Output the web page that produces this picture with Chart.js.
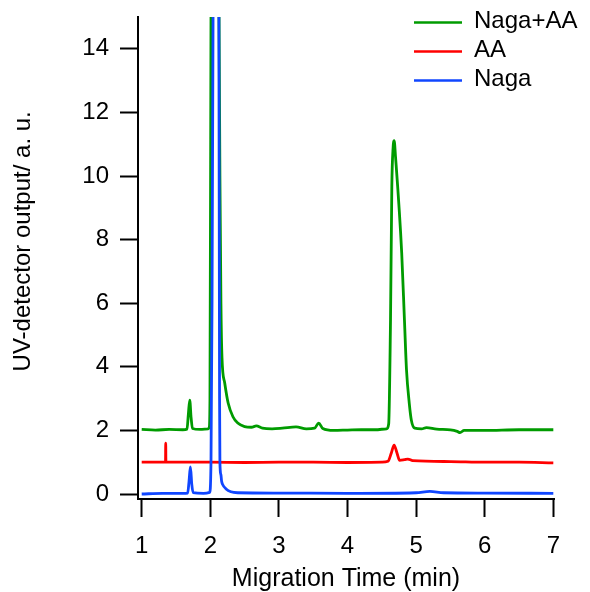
<!DOCTYPE html>
<html>
<head>
<meta charset="utf-8">
<script src="https://cdn.jsdelivr.net/npm/chart.js@4"></script>
<style>
  html, body { margin: 0; padding: 0; background: #fff; }
  canvas { display: block; }
</style>
</head>
<body>
<canvas id="chart" width="590" height="592"></canvas>
<script>
// Electropherogram: UV-detector output vs migration time

// tick labels
const xTicks = [1, 2, 3, 4, 5, 6, 7];
const yTicks = [0, 2, 4, 6, 8, 10, 12, 14];

// Naga+AA (green)
const nagaAaTime = [1.00, 1.20, 1.40, 1.60, 1.66, 1.68, 1.70, 1.72, 1.74, 1.85, 1.97, 1.985, 1.995, 2.01, 2.06, 2.12, 2.14, 2.155, 2.17, 2.21, 2.26, 2.33, 2.40, 2.50, 2.60, 2.67, 2.76, 2.90, 3.05, 3.25, 3.40, 3.52, 3.58, 3.64, 3.80, 4.00, 4.20, 4.40, 4.57, 4.60, 4.627, 4.646, 4.665, 4.68, 4.70, 4.79, 4.83, 4.86, 4.90, 4.93, 4.98, 5.08, 5.15, 5.30, 5.50, 5.60, 5.64, 5.70, 6.00, 6.50, 7.00];
const nagaAaSignal = [2.03, 2.01, 2.03, 2.02, 2.04, 2.50, 2.95, 2.40, 2.06, 2.03, 2.05, 2.10, 3.00, 15.0, 35.0, 18.0, 10.0, 6.0, 4.3, 3.49, 2.86, 2.43, 2.23, 2.12, 2.10, 2.14, 2.07, 2.05, 2.07, 2.11, 2.05, 2.07, 2.23, 2.06, 2.00, 2.01, 2.02, 2.02, 2.05, 2.20, 5.50, 9.67, 10.90, 11.11, 10.60, 7.58, 5.47, 3.90, 2.86, 2.33, 2.07, 2.05, 2.09, 2.04, 2.02, 1.97, 1.93, 2.00, 2.00, 2.02, 2.02];

// AA (red)
const aaTime = [1.00, 1.30, 1.347, 1.35, 1.353, 1.60, 2.00, 2.50, 3.00, 3.50, 4.00, 4.50, 4.59, 4.64, 4.68, 4.72, 4.76, 4.83, 4.88, 4.95, 5.50, 6.00, 6.50, 7.00];
const aaSignal = [1.00, 1.00, 1.00, 1.60, 1.00, 1.00, 1.00, 0.99, 1.00, 1.00, 0.99, 1.00, 1.03, 1.30, 1.54, 1.30, 1.06, 1.08, 1.10, 1.05, 1.02, 1.00, 1.00, 0.98];

// Naga (blue)
const nagaTime = [1.00, 1.30, 1.60, 1.67, 1.69, 1.71, 1.73, 1.75, 1.90, 1.99, 2.01, 2.025, 2.04, 2.08, 2.125, 2.135, 2.14, 2.155, 2.165, 2.18, 2.23, 2.30, 2.40, 3.00, 4.00, 5.00, 5.20, 5.40, 6.00, 7.00];
const nagaSignal = [0.00, 0.02, 0.02, 0.03, 0.40, 0.85, 0.30, 0.04, 0.02, 0.05, 1.00, 6.00, 15.0, 45.0, 15.0, 3.00, 1.00, 0.60, 0.40, 0.30, 0.16, 0.07, 0.04, 0.03, 0.02, 0.04, 0.08, 0.04, 0.03, 0.02];

const FONT = "'Liberation Sans', Arial, Helvetica, sans-serif";

function toPoints(xs, ys) {
    return xs.map((x, i) => ({ x: x, y: ys[i] }));
}

function series(label, xs, ys, color, order) {
    return {
        label: label,
        data: toPoints(xs, ys),
        borderColor: color,
        backgroundColor: color,
        borderWidth: 2.8,
        pointRadius: 0,
        cubicInterpolationMode: "monotone",
        fill: false,
        order: order
    };
}

// legend drawn top right, over the plot
const cornerLegend = {
    id: "cornerLegend",
    afterDraw(chart) {
        const ctx = chart.ctx;
        ctx.save();
        ctx.font = "24px " + FONT;
        ctx.textBaseline = "middle";
        ctx.textAlign = "left";
        chart.data.datasets.forEach((ds, i) => {
            const y = 22.5 + i * 29;
            ctx.strokeStyle = ds.borderColor;
            ctx.lineWidth = 2.5;
            ctx.beginPath();
            ctx.moveTo(414, y);
            ctx.lineTo(462, y);
            ctx.stroke();
            ctx.fillStyle = "#000";
            ctx.fillText(ds.label, 474, y - 1);
        });
        ctx.restore();
    }
};

new Chart(document.getElementById("chart").getContext("2d"), {
    type: "line",
    data: {
        datasets: [
            series("Naga+AA", nagaAaTime, nagaAaSignal, "rgb(0,155,0)", 3),
            series("AA", aaTime, aaSignal, "rgb(255,0,0)", 2),
            series("Naga", nagaTime, nagaSignal, "rgb(16,70,255)", 1)
        ]
    },
    options: {
        responsive: false,
        animation: false,
        devicePixelRatio: 1,
        layout: { padding: { top: 17, right: 36, left: 0, bottom: 0 } },
        plugins: {
            legend: { display: false },
            tooltip: { enabled: false }
        },
        scales: {
            x: {
                type: "linear",
                min: 0.946,
                max: 7.01,
                afterBuildTicks(scale) { scale.ticks = xTicks.map(v => ({ value: v })); },
                afterFit(scale) {
                    scale.height = 93;
                    scale.paddingLeft = 0;
                    scale.paddingRight = 0;
                },
                grid: { display: true, drawOnChartArea: false, drawTicks: true, tickLength: 18, tickColor: "#000", tickWidth: 2 },
                border: { display: true, color: "#000", width: 2 },
                ticks: { color: "#000", padding: 15, maxRotation: 0, font: { family: FONT, size: 24 } },
                title: {
                    display: true,
                    text: "Migration Time (min)",
                    color: "#000",
                    font: { family: FONT, size: 25, lineHeight: 1 },
                    padding: { top: 0, bottom: 0 }
                }
            },
            y: {
                type: "linear",
                min: -0.157,
                max: 15.0,
                afterBuildTicks(scale) { scale.ticks = yTicks.map(v => ({ value: v })); },
                afterFit(scale) {
                    scale.width = 138;
                    scale.paddingTop = 0;
                    scale.paddingBottom = 0;
                },
                grid: { display: true, drawOnChartArea: false, drawTicks: true, tickLength: 18, tickColor: "#000", tickWidth: 2 },
                border: { display: true, color: "#000", width: 2 },
                ticks: { color: "#000", padding: 11, font: { family: FONT, size: 24 } },
                title: {
                    display: true,
                    text: "\u00a0\u00a0\u00a0\u00a0\u00a0UV-detector output/ a. u.",
                    color: "#000",
                    font: { family: FONT, size: 24, lineHeight: 1.2 },
                    padding: { top: 9, bottom: 0 }
                }
            }
        }
    },
    plugins: [cornerLegend]
});
</script>
</body>
</html>
